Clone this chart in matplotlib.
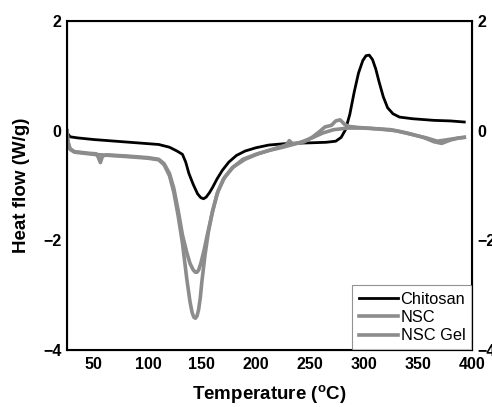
import matplotlib
matplotlib.use("Agg")
import matplotlib.pyplot as plt

plt.rcParams['font.family'] = ['Liberation Sans', 'DejaVu Sans']
plt.rcParams['mathtext.fontset'] = 'custom'
plt.rcParams['mathtext.bf'] = 'Liberation Sans:bold'
plt.rcParams['mathtext.rm'] = 'Liberation Sans:bold'

# DSC traces (temperature in C, heat flow in W/g)
chitosan_t = [25, 26, 28, 35, 50, 70, 90, 110, 120, 127, 132, 135, 138, 142, 146,
              149, 151.5, 154, 157, 160, 164, 169, 175, 182, 190, 200, 212, 230, 250,
              265, 274, 279, 283, 287, 291, 295, 299, 302, 305, 308, 311, 314, 318,
              322, 327, 333, 345, 365, 380, 393]
chitosan_q = [0.02, -0.06, -0.11, -0.13, -0.16, -0.19, -0.22, -0.25, -0.30, -0.37,
              -0.43, -0.57, -0.78, -0.98, -1.15, -1.22, -1.24, -1.21, -1.13, -1.03,
              -0.88, -0.72, -0.57, -0.45, -0.37, -0.31, -0.26, -0.23, -0.22, -0.21,
              -0.19, -0.12, 0.02, 0.30, 0.70, 1.05, 1.28, 1.37, 1.38, 1.30, 1.13,
              0.90, 0.62, 0.42, 0.31, 0.25, 0.22, 0.19, 0.18, 0.16]

nsc_t = [25, 26, 28, 32, 45, 52, 54, 56, 58, 62, 80, 100, 110, 115, 120, 124, 128,
         132, 136, 139, 142, 144, 145.5, 147, 149, 152, 155, 159, 164, 170, 178, 188,
         200, 212, 225, 240, 252, 262, 272, 285, 300, 315, 330, 345, 358, 368, 375,
         385, 393]
nsc_q = [0.0, -0.20, -0.33, -0.38, -0.41, -0.42, -0.48, -0.58, -0.46, -0.44, -0.46,
         -0.49, -0.52, -0.60, -0.78, -1.05, -1.45, -1.90, -2.22, -2.42, -2.54, -2.58,
         -2.58, -2.54, -2.42, -2.18, -1.90, -1.55, -1.15, -0.88, -0.68, -0.52, -0.43,
         -0.36, -0.30, -0.22, -0.13, -0.04, 0.02, 0.05, 0.05, 0.03, 0.0, -0.07,
         -0.13, -0.19, -0.17, -0.14, -0.12]

gel_t = [25, 26, 28, 32, 50, 80, 100, 110, 115, 120, 124, 128, 132, 136, 139, 141,
         142.5, 144, 145.5, 147, 148.5, 150, 153, 156, 160, 165, 171, 179, 190, 202,
         215, 228, 231, 234, 245, 252, 258, 264, 270, 274, 278, 282, 286, 295, 310,
         325, 340, 355, 365, 372, 380, 388, 393]
gel_q = [0.0, -0.22, -0.34, -0.39, -0.43, -0.47, -0.50, -0.53, -0.62, -0.82, -1.12,
         -1.55, -2.05, -2.70, -3.12, -3.32, -3.40, -3.42, -3.38, -3.26, -3.05, -2.75,
         -2.25, -1.85, -1.45, -1.10, -0.85, -0.66, -0.52, -0.42, -0.34, -0.26, -0.18,
         -0.24, -0.20, -0.12, -0.03, 0.07, 0.10, 0.18, 0.20, 0.12, 0.08, 0.06, 0.04,
         0.02, -0.04, -0.12, -0.20, -0.23, -0.17, -0.13, -0.12]

yticks = [-4, -2, 0, 2]
xticks = [50, 100, 150, 200, 250, 300, 350, 400]

fig = plt.figure(figsize=(4.92, 4.07), dpi=100)
ax = fig.add_axes([0.136, 0.140, 0.823, 0.808])

grey = '#8c8c8c'
ax.plot(chitosan_t, chitosan_q, color='black', lw=2.0, label='Chitosan',
        solid_joinstyle='round')
ax.plot(nsc_t, nsc_q, color=grey, lw=2.6, label='NSC', solid_joinstyle='round')
ax.plot(gel_t, gel_q, color=grey, lw=2.6, label='NSC Gel', solid_joinstyle='round')

ax.set_xlim(25, 400)
ax.set_ylim(-4, 2)
ax.set_xticks(xticks)
ax.set_yticks(yticks)
ax.tick_params(length=0, labelsize=11.5)
ax.tick_params(axis='x', pad=5)
ax.tick_params(axis='y', pad=4)
for lab in ax.get_xticklabels() + ax.get_yticklabels():
    lab.set_fontweight('bold')
for sp in ax.spines.values():
    sp.set_linewidth(1.5)

# mirrored labels on the right (clipped by the figure edge as in the original)
ax2 = ax.twinx()
ax2.set_ylim(-4, 2)
ax2.set_yticks(yticks)
ax2.tick_params(length=0, labelsize=11.5, pad=4)
for lab in ax2.get_yticklabels():
    lab.set_fontweight('bold')

ax.set_xlabel(r'Temperature ($^{\mathbf{o}}$C)', fontsize=13.5, fontweight='bold', labelpad=8)
ax.set_ylabel('Heat flow (W/g)', fontsize=13.5, fontweight='bold', labelpad=9)

leg = ax.legend(loc='lower right', bbox_to_anchor=(1.0, 0.0), borderaxespad=0,
                fontsize=11.8, frameon=True, fancybox=False, handlelength=2.4,
                handletextpad=0.15, labelspacing=0.2, borderpad=0.4)
leg.get_frame().set_edgecolor('#777777')
leg.get_frame().set_linewidth(0.8)

fig.savefig('out.png', dpi=100)
